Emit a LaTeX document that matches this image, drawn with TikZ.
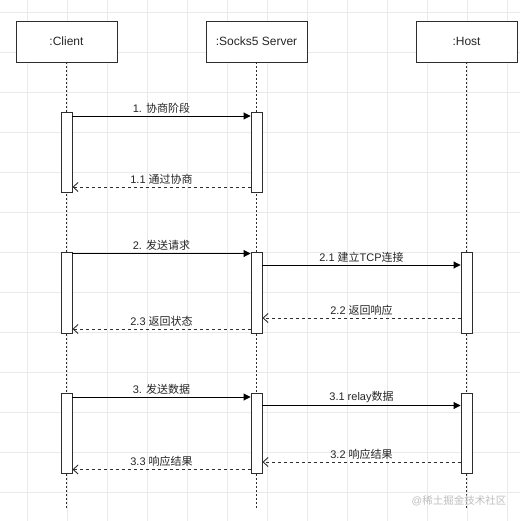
\documentclass[tikz,border=0pt]{standalone}
\usepackage{fontspec}
\setmainfont{Liberation Sans}
\newfontfamily\cjk{Noto Sans CJK SC}
\usetikzlibrary{arrows.meta,positioning}
\definecolor{SeqLine}{RGB}{45,45,45}
\definecolor{SeqGrid}{RGB}{234,234,234}
\definecolor{SeqMark}{RGB}{190,190,190}
\tikzset{
  seq/actor/.style={
    draw=SeqLine,
    line width=0.9pt,
    fill=white,
    minimum width=101pt,
    minimum height=41pt,
    inner sep=0pt,
    text=black!85,
    font=\fontsize{12}{14}\selectfont
  },
  seq/act/.style={
    draw=SeqLine,
    line width=0.9pt,
    fill=white,
    minimum width=11pt,
    inner sep=0pt
  },
  seq/life/.style={draw=SeqLine, line width=0.9pt, dash pattern=on 2pt off 2pt},
  seq/call/.style={-{Triangle[length=7pt,width=7pt]}, line width=0.9pt, draw=black},
  seq/reply/.style={-{Straight Barb[length=5pt,width=9pt]}, line width=0.9pt, draw=SeqLine, dash pattern=on 3pt off 3pt},
  seq/label/.style={font=\fontsize{11}{13}\selectfont, text=black!85, inner sep=1pt, above=1.5pt},
  seq/grid/.style={draw=SeqGrid, line width=0.8pt},
  seq/mark/.style={font=\fontsize{10.5}{12}\selectfont, text=SeqMark}
}

\begin{document}
\begin{tikzpicture}[x=1pt,y=-1pt]
  \useasboundingbox[fill=white] (0,0) rectangle (520,521);
  % background grid
  \foreach \gx in {27,67,...,507} \draw[seq/grid] (\gx,0) -- (\gx,521);
  \foreach \gy in {12,52,...,492} \draw[seq/grid] (0,\gy) -- (520,\gy);

  % actors and lifelines
  \node[seq/actor] (client) at (66.5,41.5) {:Client};
  \node[seq/actor] (server) at (256.5,41.5) {:Socks5 Server};
  \node[seq/actor] (host) at (466.5,41.5) {:Host};
  \coordinate (bottom) at (0,510);
  \draw[seq/life] (client.south) -- (client.south |- bottom);
  \draw[seq/life] (server.south) -- (server.south |- bottom);
  \draw[seq/life] (host.south) -- (host.south |- bottom);

  % activations
  \node[seq/act, minimum height=80pt] (c1) at (66.5,152) {};
  \node[seq/act, minimum height=80pt] (s1) at (256.5,152) {};
  \node[seq/act, minimum height=81pt] (c2) at (66.5,292.5) {};
  \node[seq/act, minimum height=81pt] (s2) at (256.5,292.5) {};
  \node[seq/act, minimum height=81pt] (h2) at (466.5,292.5) {};
  \node[seq/act, minimum height=80pt] (c3) at (66.5,433) {};
  \node[seq/act, minimum height=80pt] (s3) at (256.5,433) {};
  \node[seq/act, minimum height=80pt] (h3) at (466.5,433) {};

  % message rows
  \coordinate (m1) at (0,116);
  \coordinate (m11) at (0,187);
  \coordinate (m2) at (0,253.5);
  \coordinate (m21) at (0,265);
  \coordinate (m22) at (0,318);
  \coordinate (m23) at (0,329);
  \coordinate (m3) at (0,397);
  \coordinate (m31) at (0,405.5);
  \coordinate (m32) at (0,462);
  \coordinate (m33) at (0,469.5);

  % negotiation
  \draw[seq/call] (c1.east |- m1) -- node[seq/label] {1. {\cjk 协商阶段}} (s1.west |- m1);
  \draw[seq/reply] (s1.west |- m11) -- node[seq/label] {1.1 {\cjk 通过协商}} (c1.east |- m11);

  % request
  \draw[seq/call] (c2.east |- m2) -- node[seq/label] {2. {\cjk 发送请求}} (s2.west |- m2);
  \draw[seq/call] (s2.east |- m21) -- node[seq/label] {2.1 {\cjk 建立}TCP{\cjk 连接}} (h2.west |- m21);
  \draw[seq/reply] (h2.west |- m22) -- node[seq/label] {2.2 {\cjk 返回响应}} (s2.east |- m22);
  \draw[seq/reply] (s2.west |- m23) -- node[seq/label] {2.3 {\cjk 返回状态}} (c2.east |- m23);

  % data
  \draw[seq/call] (c3.east |- m3) -- node[seq/label] {3. {\cjk 发送数据}} (s3.west |- m3);
  \draw[seq/call] (s3.east |- m31) -- node[seq/label] {3.1 relay{\cjk 数据}} (h3.west |- m31);
  \draw[seq/reply] (h3.west |- m32) -- node[seq/label] {3.2 {\cjk 响应结果}} (s3.east |- m32);
  \draw[seq/reply] (s3.west |- m33) -- node[seq/label] {3.3 {\cjk 响应结果}} (c3.east |- m33);

  \node[seq/mark] (mark) at (459,501) {@{\cjk 稀土掘金技术社区}};
\end{tikzpicture}
\end{document}
